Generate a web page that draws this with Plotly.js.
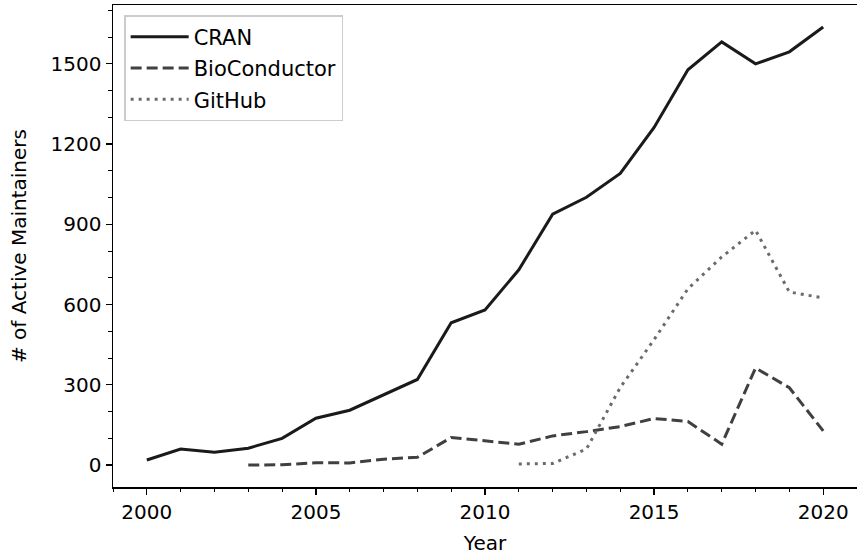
<!DOCTYPE html>
<html>
<head>
<meta charset="utf-8">
<script src="https://cdn.plot.ly/plotly-3.0.1.min.js"></script>
<style>html,body{margin:0;padding:0;background:#fff;}#chart{width:857px;height:558px;}</style>
</head>
<body>
<div id="chart"></div>
<script>
const cranYears = [2000,2001,2002,2003,2004,2005,2006,2007,2008,2009,2010,2011,2012,2013,2014,2015,2016,2017,2018,2019,2020];
const cranValues = [19,60,48,63,100,175,205,264,320,532,580,730,938,1001,1090,1262,1478,1582,1500,1545,1638];
const bioYears = [2003,2004,2005,2006,2007,2008,2009,2010,2011,2012,2013,2014,2015,2016,2017,2018,2019,2020];
const bioValues = [0,1,9,8,22,29,103,90,78,109,125,144,174,163,78,363,289,128];
const ghYears = [2011,2012,2013,2014,2015,2016,2017,2018,2019,2020];
const ghValues = [4,6,60,290,469,659,778,878,647,625];
const xTicks = [2000,2005,2010,2015,2020];
const yTicks = [0,300,600,900,1200,1500];

const font = {family:'DejaVu Sans, sans-serif', size:20, color:'#000'};
const legendFont = {family:'DejaVu Sans, sans-serif', size:21, color:'#000'};
const traces = [
  {x:cranYears, y:cranValues, name:'CRAN', legendgroup:'a', mode:'lines', line:{color:'#1a1a1a', width:3}},
  {x:bioYears, y:bioValues, name:'BioConductor', legendgroup:'b', mode:'lines', line:{color:'#404040', width:3, dash:'11px,5px'}},
  {x:ghYears, y:ghValues, name:'GitHub', legendgroup:'c', mode:'lines', line:{color:'#6b6b6b', width:3, dash:'3px,5px'}}
];
const layout = {
  width:857, height:558,
  margin:{l:113, r:0, t:5, b:71},
  paper_bgcolor:'#fff', plot_bgcolor:'#fff',
  font:font,
  showlegend:true,
  legend:{x:0.015, y:0.979, xanchor:'left', yanchor:'top', bgcolor:'rgba(255,255,255,0.8)', bordercolor:'#cccccc', borderwidth:1.5,
    font:legendFont, itemwidth:58, tracegroupgap:1},
  xaxis:{range:[1999,2021], tickvals:xTicks, ticktext:xTicks.map(String), showgrid:false, zeroline:false,
    showline:true, linecolor:'#000', linewidth:1.5, mirror:true, ticks:'outside', ticklen:6, tickwidth:1.2, tickcolor:'#000',
    tickfont:font,
    minor:{dtick:1, ticks:'outside', ticklen:3.5, tickwidth:1, tickcolor:'#000', showgrid:false},
    title:{text:'Year', font:font, standoff:13}},
  yaxis:{range:[-82,1720], tickvals:yTicks, ticktext:yTicks.map(String), showgrid:false, zeroline:false,
    showline:true, linecolor:'#000', linewidth:1.5, mirror:false, ticks:'outside', ticklen:6, tickwidth:1.2, tickcolor:'#000',
    tickfont:font,
    minor:{dtick:100, tick0:0, ticks:'outside', ticklen:3.5, tickwidth:1, tickcolor:'#000', showgrid:false},
    title:{text:'# of Active Maintainers', font:font, standoff:18}}
};
Plotly.newPlot('chart', traces, layout, {displayModeBar:false, staticPlot:true});
</script>
</body>
</html>
